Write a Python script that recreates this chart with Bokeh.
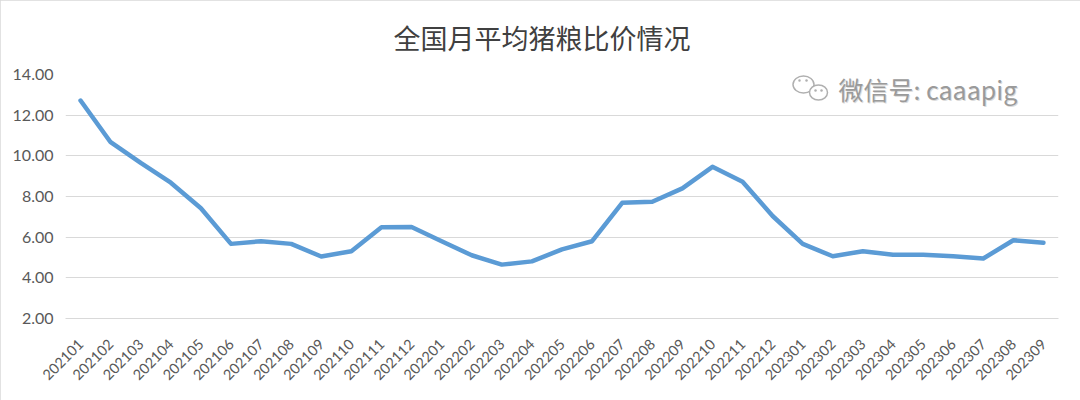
import math
from bokeh.plotting import figure
from bokeh.models import FactorRange, Range1d, FixedTicker, Label, Title
from bokeh.embed import file_html
from bokeh.resources import INLINE

months = ["202101", "202102", "202103", "202104", "202105", "202106",
          "202107", "202108", "202109", "202110", "202111", "202112",
          "202201", "202202", "202203", "202204", "202205", "202206",
          "202207", "202208", "202209", "202210", "202211", "202212",
          "202301", "202302", "202303", "202304", "202305", "202306",
          "202307", "202308", "202309"]
ratio = [12.72, 10.67, 9.65, 8.68, 7.42, 5.67, 5.80, 5.67, 5.05, 5.31, 6.49, 6.50,
         5.80, 5.11, 4.65, 4.81, 5.40, 5.80, 7.69, 7.74, 8.40, 9.46, 8.73, 7.04,
         5.67, 5.06, 5.31, 5.13, 5.14, 5.06, 4.95, 5.85, 5.72]
y_ticks = [2, 4, 6, 8, 10, 12, 14]
y_tick_labels = {t: f"{t:.2f}" for t in y_ticks}
title_text = "全国月平均猪粮比价情况"
watermark = "微信号: caaapig"

W, H = 1080, 400
FL, FR, FT, FB = 65, 1058, 74, 318
p = figure(width=W, height=H, x_range=FactorRange(*months), y_range=Range1d(2, 14),
           output_backend="svg", toolbar_location=None,
           min_border_left=FL, min_border_right=W - FR, min_border_top=FT,
           min_border_bottom=H - FB,
           background_fill_color="white", border_fill_color="white",
           styles={"outline": "2px solid #d9d9d9", "outline-offset": "-2px"})
p.outline_line_color = None

p.title = Title(text=title_text, align="left", vertical_align="top",
                text_font="Noto Sans CJK SC", text_font_size="27px",
                text_font_style="normal", text_color="#404040",
                offset=393 - FL, standoff=31)

# axes
p.yaxis.ticker = FixedTicker(ticks=y_ticks)
p.yaxis.major_label_overrides = y_tick_labels
p.yaxis.axis_line_color = None
p.yaxis.major_tick_line_color = None
p.yaxis.minor_tick_line_color = None
p.yaxis.major_label_text_font = "Lato"
p.yaxis.major_label_text_font_size = "16px"
p.yaxis.major_label_text_color = "#595959"
p.yaxis.major_label_standoff = 6

p.xaxis.axis_line_color = "#d9d9d9"
p.xaxis.major_tick_line_color = None
p.xaxis.minor_tick_line_color = None
p.xaxis.major_label_orientation = math.pi / 4
p.xaxis.major_label_text_font = "Lato"
p.xaxis.major_label_text_font_size = "14.5px"
p.xaxis.major_label_text_color = "#595959"
p.xaxis.major_label_standoff = 17

p.xgrid.grid_line_color = None
p.ygrid.grid_line_color = "#d9d9d9"
p.ygrid.grid_line_width = 1

p.line(months, ratio, line_color="#5B9BD5", line_width=4.5, line_join="round", line_cap="round")

# positions of decorations given in reference pixel coordinates
def px2data(px, py):
    return (px - FL) / ((FR - FL) / len(months)), 14 - (py - FT) / ((FB - FT) / 12)

# watermark
bx, by = px2data(803, 84)
sx, sy = px2data(818, 92)
p.ellipse(x=[bx], y=[by], width=21, height=17, width_units="screen", height_units="screen",
          fill_color="white", line_color="#b0b0b0", line_width=1.5)
p.ellipse(x=[sx], y=[sy], width=18, height=15, width_units="screen", height_units="screen",
          fill_color="white", line_color="#b0b0b0", line_width=1.5)
dots = [px2data(799, 80), px2data(806, 80), px2data(815, 90), px2data(821, 90)]
p.scatter(x=[d[0] for d in dots], y=[d[1] for d in dots], size=2.5,
          fill_color="#b0b0b0", line_color=None)

tx, ty = px2data(838, 88)
p.add_layout(Label(x=tx, y=ty, text=watermark, text_font="Noto Sans CJK SC",
                   text_font_size="25px", text_color="#dcdcdc", text_baseline="middle",
                   x_offset=1, y_offset=-1))
p.add_layout(Label(x=tx, y=ty, text=watermark, text_font="Noto Sans CJK SC",
                   text_font_size="25px", text_color="#9a9a9a", text_baseline="middle"))

open("out.html", "w").write(file_html(p, INLINE))
